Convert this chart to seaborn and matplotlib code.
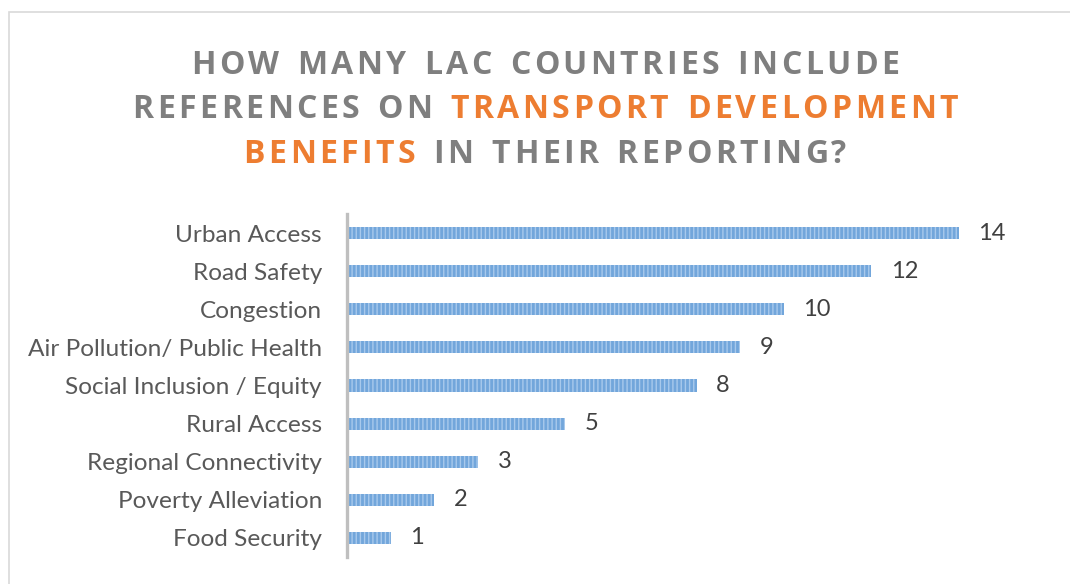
import matplotlib
matplotlib.use("Agg")
import matplotlib.pyplot as plt
import seaborn as sns
import pandas as pd
from matplotlib.patches import Rectangle

categories = ["Urban Access", "Road Safety", "Congestion", "Air Pollution/ Public Health",
              "Social Inclusion / Equity", "Rural Access", "Regional Connectivity",
              "Poverty Alleviation", "Food Security"]
values = [14, 12, 10, 9, 8, 5, 3, 2, 1]

title_lines = [
    [("HOW MANY LAC COUNTRIES INCLUDE", "gray")],
    [("REFERENCES ON ", "gray"), ("TRANSPORT DEVELOPMENT", "orange")],
    [("BENEFITS", "orange"), (" IN THEIR REPORTING?", "gray")],
]

GRAY = "#7f7f7f"
ORANGE = "#ed7d31"
BAR = "#72a6db"
STRIPE = "#a8c9ec"

sns.set_theme(style="white")
plt.rcParams["font.family"] = ["Lato", "DejaVu Sans"]
plt.rcParams["hatch.linewidth"] = 1.0

W, H = 1070, 584
fig = plt.figure(figsize=(W / 100, H / 100), dpi=100)

# outer frame (light gray border, continues past right/bottom edges)
fig.patches.append(Rectangle((9 / W, -0.1), 1.2, (1 - 12 / H) + 0.1, transform=fig.transFigure,
                             fill=False, edgecolor="#d9d9d9", linewidth=1.2))

ax = fig.add_axes([347 / W, 1 - 557 / H, 699 / W, 343 / H])
df = pd.DataFrame({"category": categories, "value": values})
sns.barplot(data=df, x="value", y="category", orient="h", ax=ax, color=BAR,
            width=0.32, saturation=1)
for p in ax.patches:
    p.set_facecolor(BAR)
    p.set_edgecolor(STRIPE)
    p.set_linewidth(0)
    p.set_hatch("||||")

ax.set_xlim(0, 16)
ax.set_ylim(8.5, -0.5)
ax.set_xlabel("")
ax.set_ylabel("")
ax.set_xticks([])
for s in ["top", "right", "bottom"]:
    ax.spines[s].set_visible(False)
ax.spines["left"].set_color("#bfbfbf")
ax.spines["left"].set_linewidth(2.4)
ax.tick_params(axis="y", length=0, pad=18, labelsize=17.6, labelcolor="#595959")

for i, v in enumerate(values):
    ax.annotate(str(v), xy=(v, i), xytext=(14, 0), textcoords="offset points",
                ha="left", va="center", fontsize=17, color="#404040")

# title with letter spacing and mixed colours
fig.canvas.draw()
renderer = fig.canvas.get_renderer()
tfont = dict(family=["Open Sans", "DejaVu Sans"], weight="bold", size=23)
tracking = 3.4
baselines = [74, 118, 163]
cx = 545
for line, base in zip(title_lines, baselines):
    chars = []
    for seg, col in line:
        c = GRAY if col == "gray" else ORANGE
        for ch in seg:
            chars.append((ch, c))
    widths = []
    for ch, c in chars:
        t = fig.text(0, 0, ch if ch != " " else "n", **tfont)
        w = t.get_window_extent(renderer).width
        if ch == " ":
            w *= 0.55
        widths.append(w)
        t.remove()
    total = sum(widths) + tracking * (len(chars) - 1)
    x = cx - total / 2
    for (ch, c), w in zip(chars, widths):
        if ch != " ":
            fig.text(x / W, 1 - base / H, ch, color=c, ha="left", va="baseline", **tfont)
        x += w + tracking

fig.savefig("out.png", dpi=100)
